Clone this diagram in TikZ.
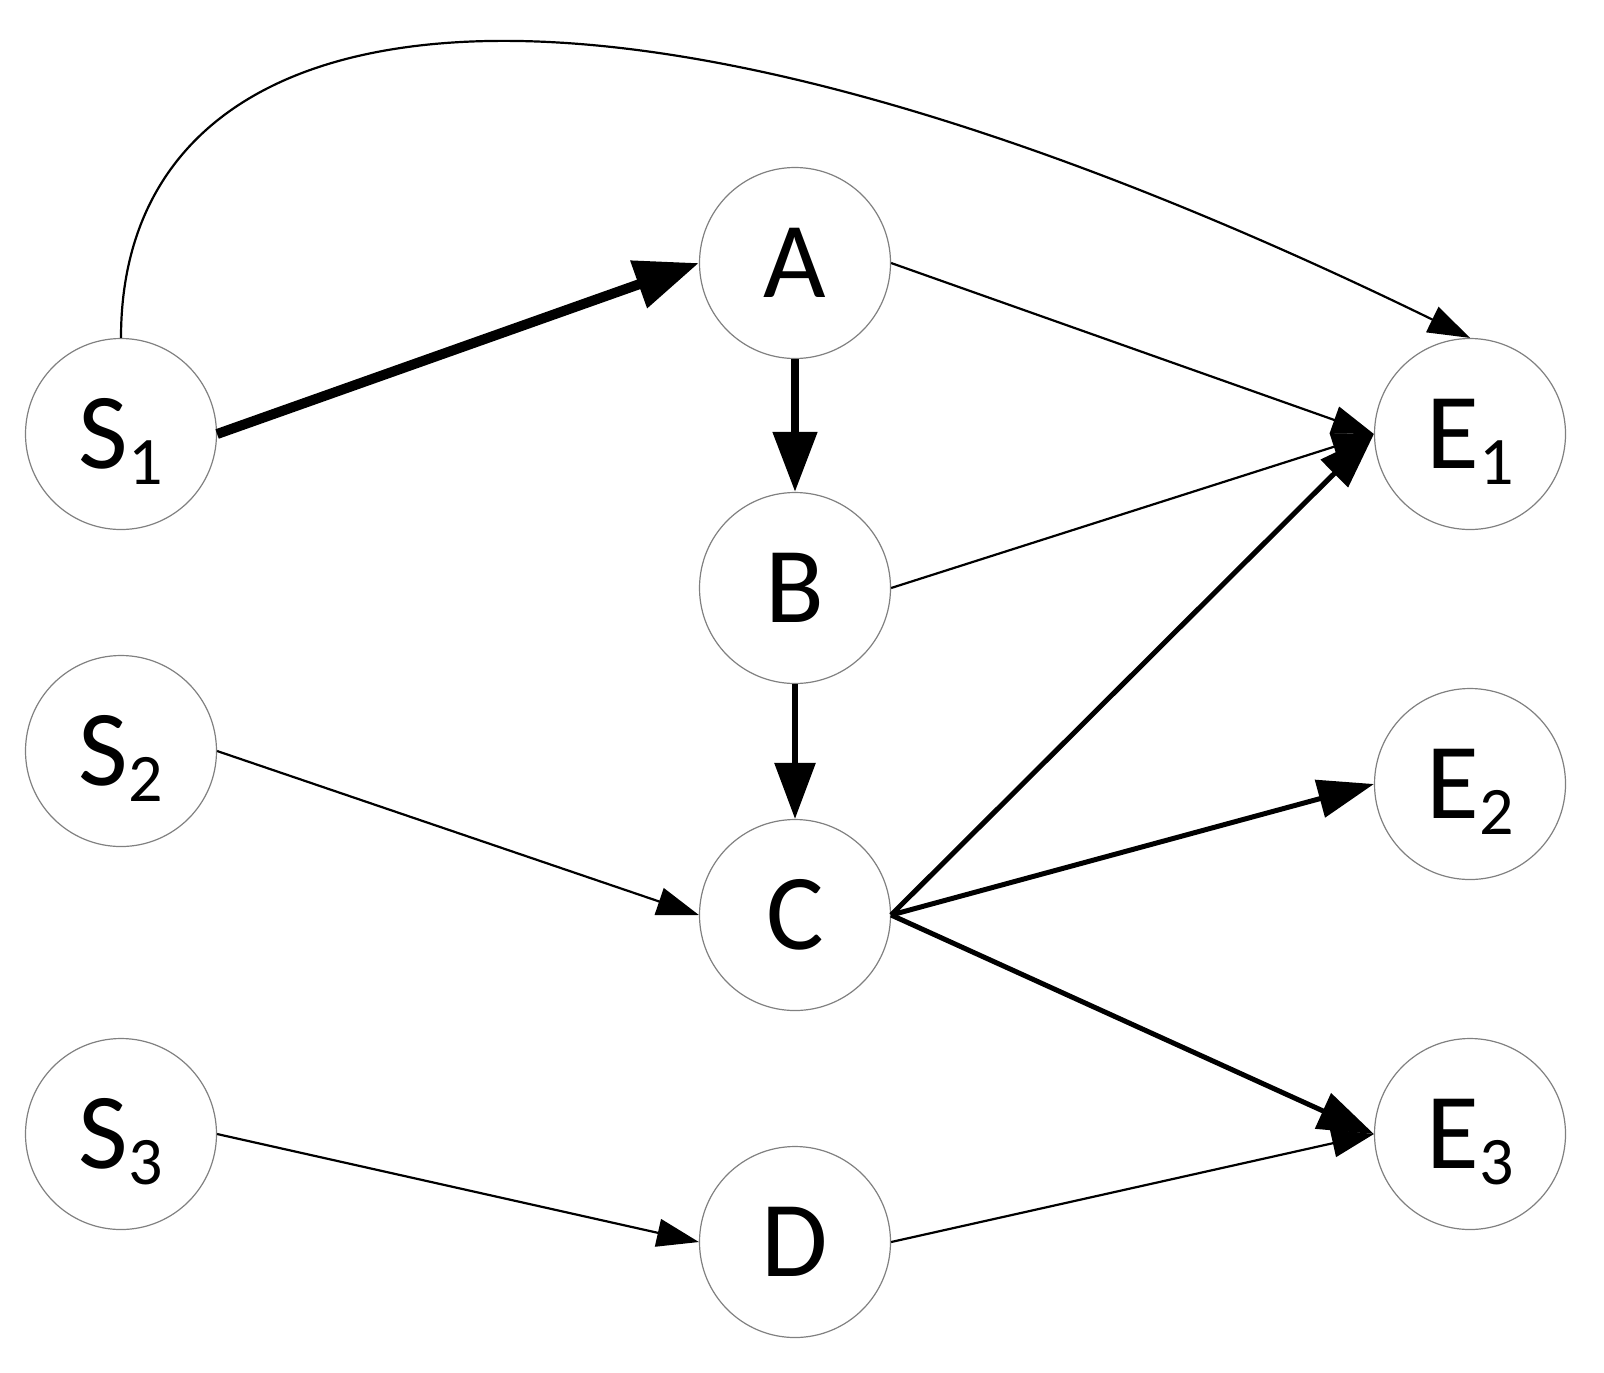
\documentclass[tikz,border=0pt]{standalone}
\usepackage{fontspec}
\setmainfont{Carlito}
\usetikzlibrary{arrows.meta}
\newcommand\mysub[1]{\raisebox{-8pt}{\fontsize{34pt}{34pt}\selectfont #1}}
\begin{document}
\begin{tikzpicture}[x=0.5pt,y=-0.5pt,
  vtx/.style={circle,draw=black!50,line width=0.6pt,minimum size=95.5pt,inner sep=0pt,
    font=\fontsize{54pt}{54pt}\selectfont,text height=34pt,text depth=0pt},
  thinedge/.style={line width=1.1pt,-{Triangle[length=21pt,width=14pt]}},
  midedge/.style={line width=2.5pt,-{Triangle[length=28pt,width=19pt]}},
  vmidedge/.style={line width=3pt,-{Triangle[length=28pt,width=20pt]}},
  vthickedge/.style={line width=4pt,-{Triangle[length=30pt,width=21.5pt]}},
  thickedge/.style={line width=5pt,-{Triangle[length=32pt,width=24pt]}}
]
\useasboundingbox (0,0) rectangle (1604,1372);
\node[vtx] (S1) at (121,434) {S\mysub{1}};
\node[vtx] (S2) at (121,751) {S\mysub{2}};
\node[vtx] (S3) at (121,1134) {S\mysub{3}};
\node[vtx] (A) at (795,263) {A};
\node[vtx] (B) at (795,588) {B};
\node[vtx] (C) at (795,915) {C};
\node[vtx] (D) at (795,1242) {D};
\node[vtx] (E1) at (1470,434) {E\mysub{1}};
\node[vtx] (E2) at (1470,784) {E\mysub{2}};
\node[vtx] (E3) at (1470,1134) {E\mysub{3}};
\coordinate (c1) at (121,-5);
\coordinate (c2) at (570,-101);
\draw[thinedge] (S1.north) .. controls (c1) and (c2) .. (E1.north);
\draw[thickedge] (S1.east) -- (A.west);
\draw[vthickedge] (A.south) -- (B.north);
\draw[vmidedge] (B.south) -- (C.north);
\draw[thinedge] (A.east) -- (E1.west);
\draw[thinedge] (B.east) -- (E1.west);
\draw[midedge] (C.east) -- (E1.west);
\draw[midedge] (C.east) -- (E2.west);
\draw[midedge] (C.east) -- (E3.west);
\draw[thinedge] (S2.east) -- (C.west);
\draw[thinedge] (S3.east) -- (D.west);
\draw[thinedge] (D.east) -- (E3.west);
\end{tikzpicture}
\end{document}
